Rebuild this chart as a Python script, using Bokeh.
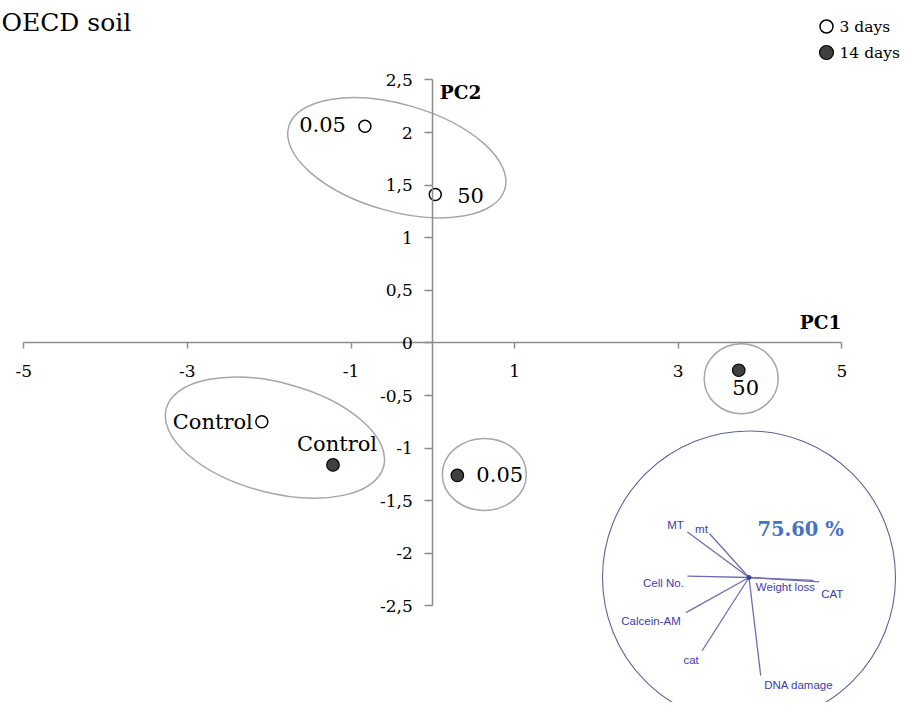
from bokeh.plotting import figure
from bokeh.models import Range1d, LinearAxis, FixedTicker, ColumnDataSource
from bokeh.core.properties import value
from bokeh.embed import file_html
from bokeh.resources import INLINE

# ---------------- data ----------------
labels_3d = ["0.05", "50", "Control"]
pc1_3d = [-0.83, 0.03, -2.09]
pc2_3d = [2.06, 1.41, -0.75]

labels_14d = ["Control", "0.05", "50"]
pc1_14d = [-1.22, 0.30, 3.74]
pc2_14d = [-1.16, -1.26, -0.26]

# centres of the grouping ellipses (PC1, PC2)
group_pc1 = [-0.44, -1.93, 0.63, 3.77]
group_pc2 = [1.76, -0.90, -1.25, -0.34]

# loading vectors of the correlation-circle inset
loading_names = ["MT", "mt", "Cell No.", "Calcein-AM", "cat", "DNA damage", "Weight loss", "CAT"]
loading_x = [-0.42, -0.27, -0.42, -0.43, -0.32, 0.08, 0.44, 0.48]
loading_y = [0.31, 0.30, 0.01, -0.24, -0.50, -0.67, -0.02, -0.03]
explained = ["75.60 %"]

x_ticks = [-5, -3, -1, 1, 3, 5]
x_tick_labels = ["-5", "-3", "-1", "1", "3", "5"]
y_ticks = [-2.5, -2, -1.5, -1, -0.5, 0, 0.5, 1, 1.5, 2, 2.5]
y_tick_labels = ["-2,5", "-2", "-1,5", "-1", "-0,5", "0", "0,5", "1", "1,5", "2", "2,5"]
legend_labels = ["3 days", "14 days"]
title = "OECD soil"

# ---------------- layout ----------------
W, H = 906, 702
X0, XS = 432.3, 81.8      # px of PC1 = 0, px per unit
Y0, YS = 342.4, 105.2     # px of PC2 = 0, px per unit
IX0, IY0, IR = 748.5, 577.0, 146.5   # inset circle centre / radius (px)

SERIF_NAME = "DejaVu Serif"
SERIF = value(SERIF_NAME)
SANS = value("Liberation Sans")
GREY = "#8c8c8c"

p = figure(width=W, height=H,
           x_range=Range1d(-X0 / XS, (W - X0) / XS),
           y_range=Range1d((Y0 - H) / YS, Y0 / YS),
           output_backend="svg", toolbar_location=None,
           x_axis_location=None, y_axis_location=None,
           min_border=0, outline_line_color=None,
           background_fill_color="white", border_fill_color="white")
p.xgrid.visible = False
p.ygrid.visible = False

p.extra_x_ranges = {"ix": Range1d(-IX0 / IR, (W - IX0) / IR),
                    "px": Range1d(0, W)}
p.extra_y_ranges = {"iy": Range1d((IY0 - H) / IR, IY0 / IR),
                    "px": Range1d(H, 0)}

# ---------------- axes crossing at 0 ----------------
xa = LinearAxis(fixed_location=0, ticker=FixedTicker(ticks=x_ticks), bounds=(-5, 5),
                major_label_overrides=dict(zip(x_ticks, x_tick_labels)),
                axis_line_color=GREY, axis_line_width=1.5,
                major_tick_line_color=GREY, major_tick_line_width=1.5,
                major_tick_in=0, major_tick_out=6, minor_tick_line_color=None,
                major_label_standoff=16,
                major_label_text_font=SERIF_NAME, major_label_text_font_size="17px",
                major_label_text_color="black")
p.add_layout(xa, "below")

ya = LinearAxis(fixed_location=0, ticker=FixedTicker(ticks=y_ticks), bounds=(-2.5, 2.5),
                major_label_overrides=dict(zip(y_ticks, y_tick_labels)),
                axis_line_color=GREY, axis_line_width=1.5,
                major_tick_line_color=GREY, major_tick_line_width=1.5,
                major_tick_in=0, major_tick_out=8, minor_tick_line_color=None,
                major_label_standoff=12,
                major_label_text_font=SERIF_NAME, major_label_text_font_size="17px",
                major_label_text_color="black")
p.add_layout(ya, "left")

# axis titles
p.text(x=[4.74, 0.34], y=[0.197, 2.383], text=["PC1", "PC2"],
       text_font=SERIF, text_font_style="bold", text_font_size="18.5px",
       text_align="center", text_baseline="middle", text_color="black")

# ---------------- grouping ellipses ----------------
p.ellipse(x=group_pc1, y=group_pc2,
          width=[225, 225, 84, 74], height=[107, 110, 72, 70],
          angle=[-0.28, -0.26, 0, 0],
          width_units="screen", height_units="screen",
          fill_color=None, line_color="#a6a6a6", line_width=1.5)

# ---------------- points ----------------
p.scatter(x=pc1_3d, y=pc2_3d, size=12, marker="circle",
          fill_color="white", line_color="black", line_width=1.5)
p.scatter(x=pc1_14d, y=pc2_14d, size=12.5, marker="circle",
          fill_color="#404040", line_color="black", line_width=1.2)

src3 = ColumnDataSource(dict(x=pc1_3d, y=pc2_3d, t=labels_3d,
                             al=["right", "left", "right"],
                             xo=[-19, 22, -9], yo=[-2, 1, 0]))
p.text(x="x", y="y", text="t", source=src3, text_align="al", text_baseline="middle",
       x_offset="xo", y_offset="yo", text_font=SERIF, text_font_size="21px",
       text_color="black")
src14 = ColumnDataSource(dict(x=pc1_14d, y=pc2_14d, t=labels_14d,
                              al=["center", "left", "center"],
                              xo=[4, 19, 7], yo=[-21, -1, 17]))
p.text(x="x", y="y", text="t", source=src14, text_align="al", text_baseline="middle",
       x_offset="xo", y_offset="yo", text_font=SERIF, text_font_size="21px",
       text_color="black")

# ---------------- inset correlation circle ----------------
INK = "#3d3da8"
p.ellipse(x=[0], y=[0], width=2, height=2, x_range_name="ix", y_range_name="iy",
          fill_color=None, line_color="#62629a", line_width=1.1)
p.segment(x0=[0] * len(loading_x), y0=[0] * len(loading_y), x1=loading_x, y1=loading_y,
          x_range_name="ix", y_range_name="iy", line_color="#6e6eac", line_width=1.3)
p.scatter(x=[0], y=[0], size=4, color=INK, x_range_name="ix", y_range_name="iy")
srcl = ColumnDataSource(dict(x=loading_x, y=loading_y, t=loading_names,
                             xo=[-12, -8, -24, -35, -11, 38, -28, 13],
                             yo=[-7, -5, 7, 8, 9, 9, 7, 12]))
p.text(x="x", y="y", text="t", source=srcl, x_offset="xo", y_offset="yo",
       x_range_name="ix", y_range_name="iy",
       text_align="center", text_baseline="middle",
       text_font=SANS, text_font_size="11.5px", text_color=INK)
p.text(x=[0.352], y=[0.328], text=explained, x_range_name="ix", y_range_name="iy",
       text_align="center", text_baseline="middle",
       text_font=SERIF, text_font_style="bold", text_font_size="19.5px",
       text_color="#4472C4")

# ---------------- legend (screen-pixel layer) ----------------
p.scatter(x=[826], y=[26], size=13, marker="circle", fill_color="white",
          line_color="black", line_width=1.5, x_range_name="px", y_range_name="px")
p.scatter(x=[826], y=[52], size=14, marker="circle", fill_color="#404040",
          line_color="black", line_width=1.2, x_range_name="px", y_range_name="px")
p.text(x=[839, 839], y=[26, 52], text=legend_labels, x_range_name="px", y_range_name="px",
       text_align="left", text_baseline="middle",
       text_font=SERIF, text_font_size="15.5px", text_color="black")

# ---------------- title ----------------
p.text(x=[1], y=[22], text=[title], x_range_name="px", y_range_name="px",
       text_align="left", text_baseline="alphabetic",
       text_font=SERIF, text_font_size="25px", text_color="black")

open("out.html", "w").write(file_html(p, INLINE))
